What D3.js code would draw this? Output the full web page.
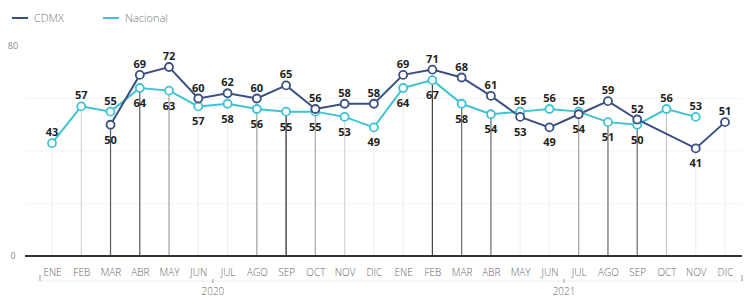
<!DOCTYPE html>
<html>
<head>
<meta charset="utf-8">
<script src="https://cdn.jsdelivr.net/npm/d3@7"></script>
<style>
  body { margin: 0; background: #fff; }
  svg { display: block; }
</style>
</head>
<body>
<svg id="chart" width="744" height="299"></svg>
<script>
// data (null = no point)
var months = ["ENE","FEB","MAR","ABR","MAY","JUN","JUL","AGO","SEP","OCT","NOV","DIC",
              "ENE","FEB","MAR","ABR","MAY","JUN","JUL","AGO","SEP","OCT","NOV","DIC"];
var years = ["2020", "2021"];
var cdmx = [null, null, 50, 69, 72, 60, 62, 60, 65, 56, 58, 58,
            69, 71, 68, 61, 53, 49, 54, 59, 52, null, 41, 51];
var nacional = [43, 57, 55, 64, 63, 57, 58, 56, 55, 55, 53, 49,
                64, 67, 58, 54, 55, 56, 55, 51, 50, 56, 53, null];
var yTicks = [0, 80];

// shade of the drop line under each month
var dropShade = ["#efefef","#d6d6d6","#5a5a5a","#5a5a5a","#a0a0a0","#efefef","#efefef","#a0a0a0",
                 "#222","#a8a8a8","#d6d6d6","#efefef","#efefef","#444","#6a6a6a","#6a6a6a",
                 "#f2f2f2","#f2f2f2","#a0a0a0","#6a6a6a","#6a6a6a","#c4c4c4","#f0f0f0","#f0f0f0"];

var colCdmx = "#3b4f80", colNac = "#3fc3d2";

var svg = d3.select("#chart");
var idx = d3.range(months.length);
var x = d3.scalePoint().domain(idx).range([52, 725]);
var y = d3.scaleLinear().domain([0, 80]).range([256, 46]);

// faint horizontal grid
svg.selectAll(".hg").data([20, 40, 60]).enter().append("line")
  .attr("x1", 25).attr("x2", 742)
  .attr("y1", d => y(d)).attr("y2", d => y(d))
  .attr("stroke", "#f5f5f5").attr("stroke-width", 1);

// drop lines from the lower point to the axis
idx.forEach(function(i) {
  var vals = [cdmx[i], nacional[i]].filter(v => v != null);
  var lo = d3.min(vals);
  svg.append("line")
    .attr("x1", x(i)).attr("x2", x(i))
    .attr("y1", y(lo)).attr("y2", y(0))
    .attr("stroke", dropShade[i]).attr("stroke-width", 1.2);
});

// axis line
svg.append("line").attr("x1", 25).attr("x2", 742)
  .attr("y1", y(0)).attr("y2", y(0))
  .attr("stroke", "#333").attr("stroke-width", 2);

// y labels
svg.selectAll(".yl").data(yTicks).enter().append("text")
  .attr("x", 13).attr("y", d => y(d) + 3)
  .attr("text-anchor", "middle")
  .attr("font-family", "Open Sans, sans-serif").attr("font-size", 9)
  .attr("fill", "#888").text(d => d);

// month axis
var xAxis = d3.axisBottom(x).tickSize(0).tickPadding(0)
  .tickFormat(i => months[i]);
var gx = svg.append("g").attr("transform", "translate(0,276)").call(xAxis);
gx.select(".domain").remove();
gx.selectAll("text").attr("dy", 0)
  .attr("font-family", "Open Sans, sans-serif").attr("font-size", 10)
  .attr("font-weight", 300).attr("fill", "#666");

// year group line and ticks
svg.append("line").attr("x1", 40).attr("x2", 742).attr("y1", 281).attr("y2", 281)
  .attr("stroke", "#eee");
[40, 742].forEach(function(px) {
  svg.append("line").attr("x1", px).attr("x2", px).attr("y1", 275).attr("y2", 281)
    .attr("stroke", "#999");
});
years.forEach(function(yr, k) {
  var cx = (x(k * 12 + 5) + x(k * 12 + 6)) / 2;
  svg.append("line").attr("x1", cx).attr("x2", cx).attr("y1", 279).attr("y2", 283)
    .attr("stroke", "#999");
  svg.append("text").attr("x", cx).attr("y", 295)
    .attr("text-anchor", "middle")
    .attr("font-family", "Open Sans, sans-serif").attr("font-size", 10)
    .attr("font-weight", 300).attr("fill", "#666").text(yr);
});

// series
var series = [
  {name: "Nacional", vals: nacional, other: cdmx, color: colNac},
  {name: "CDMX", vals: cdmx, other: nacional, color: colCdmx}
];
var line = d3.line().x(d => x(d.i)).y(d => y(d.v));

series.forEach(function(s) {
  var pts = idx.filter(i => s.vals[i] != null).map(i => ({i: i, v: s.vals[i]}));
  svg.append("path").datum(pts)
    .attr("d", line).attr("fill", "none")
    .attr("stroke", s.color).attr("stroke-width", 2);
  s.pts = pts;
});
series.forEach(function(s) {
  svg.selectAll(null).data(s.pts).enter().append("circle")
    .attr("cx", d => x(d.i)).attr("cy", d => y(d.v)).attr("r", 4)
    .attr("fill", "#fff").attr("stroke", s.color).attr("stroke-width", 1.8);
});

// value labels: higher value above, lower below
series.forEach(function(s) {
  svg.selectAll(null).data(s.pts).enter().append("text")
    .attr("x", d => x(d.i))
    .attr("y", function(d) {
      var o = s.other[d.i];
      var below = (o != null && o > d.v) || (s.name == "CDMX" && d.i == 22);
      return below ? y(d.v) + 19 : y(d.v) - 7;
    })
    .attr("text-anchor", "middle")
    .attr("font-family", "Open Sans, sans-serif").attr("font-size", 11)
    .attr("font-weight", 700).attr("fill", "#1e1e1e")
    .text(d => d.v);
});

// legend
var leg = [{name: "CDMX", color: colCdmx, x: 12}, {name: "Nacional", color: colNac, x: 103}];
leg.forEach(function(l) {
  svg.append("line").attr("x1", l.x).attr("x2", l.x + 16).attr("y1", 18).attr("y2", 18)
    .attr("stroke", l.color).attr("stroke-width", 2);
  svg.append("text").attr("x", l.x + 22).attr("y", 22)
    .attr("font-family", "Open Sans, sans-serif").attr("font-size", 11)
    .attr("font-weight", 300).attr("fill", "#777").text(l.name);
});
</script>
</body>
</html>
